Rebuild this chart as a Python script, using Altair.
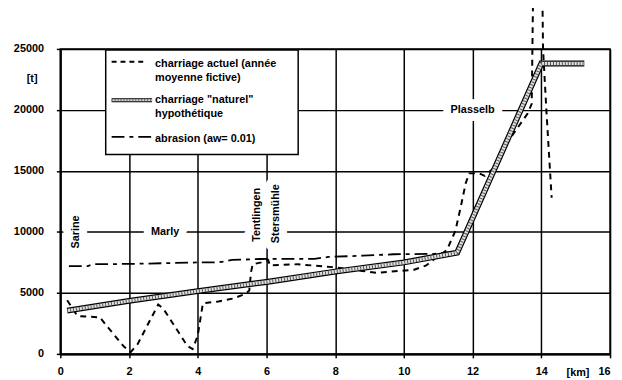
import altair as alt
import pandas as pd

# ---- data ----
act_km = [0.2, 0.5, 1.15, 1.35, 1.85, 2.05, 2.25, 2.85, 3.0, 3.7, 3.85, 4.0, 4.15, 4.6, 5.05, 5.4, 5.5,
          5.55, 5.6, 5.85, 6.05, 6.1, 6.9, 8.0, 8.8, 9.2, 10.3, 10.65, 10.85, 11.25, 11.5, 11.65, 11.8,
          11.9, 12.2, 12.35, 12.6, 13.0, 13.6, 13.72, 13.76, 14.03, 14.05, 14.15, 14.3]
act_t = [4400, 3100, 3000, 2300, 600, 150, 800, 4050, 3700, 650, 400, 1500, 4150, 4300, 4550, 4950, 5200,
         6700, 7350, 7500, 7700, 7250, 7350, 7100, 6800, 6650, 6900, 7250, 7700, 8500, 10100, 12000, 14000,
         14800, 14800, 14600, 15200, 17300, 19700, 20500, 29500, 29500, 25000, 19800, 12800]

nat_km = [0.2, 2.0, 4.0, 6.0, 8.0, 10.0, 11.55, 14.0, 15.25]
nat_t = [3550, 4350, 5150, 5900, 6750, 7500, 8300, 23800, 23800]

abr_km = [0.25, 0.8, 0.95, 2.1, 4.0, 4.6, 5.0, 5.8, 7.4, 7.8, 8.8, 9.7, 10.9, 11.55]
abr_t = [7200, 7200, 7350, 7380, 7500, 7500, 7700, 7780, 7800, 7950, 8050, 8170, 8200, 8400]

place_names = ["Sarine", "Marly", "Tentlingen", "Stersmühle", "Plasselb"]
place_km = [0.45, 3.05, 5.72, 6.29, 12.0]
place_t = [10000, 10000, 11400, 11500, 20000]
place_angle = [270, 0, 270, 270, 0]

x_ticks = [0, 2, 4, 6, 8, 10, 12, 14, 16]
y_ticks = [0, 5000, 10000, 15000, 20000, 25000]

legend_labels = ["charriage actuel (année\nmoyenne fictive)",
                 'charriage "naturel"\nhypothétique',
                 "abrasion (aw= 0.01)"]

FONT = "Liberation Sans"


def series_df(km, t):
    return pd.DataFrame({"km": km, "t": t, "i": list(range(len(km)))})


act_df = series_df(act_km, act_t)
nat_df = series_df(nat_km, nat_t)
abr_df = series_df(abr_km, abr_t)
place_df = pd.DataFrame({"km": place_km, "t": place_t, "name": place_names, "angle": place_angle})
one = pd.DataFrame({"a": [0]})

xs = alt.Scale(domain=[0, 16], nice=False, zero=False)
ys = alt.Scale(domain=[0, 25000], nice=False)

xenc = alt.X("km:Q", scale=xs, axis=alt.Axis(
    values=x_ticks, format="d", title="[km]", titleX=524, titleY=13, titleBaseline="top",
    titleAlign="center", titleFont=FONT, titleFontSize=11, titleFontWeight="bold", titleColor="black",
    labelFont=FONT, labelFontSize=11, labelFontWeight="bold", labelColor="black", labelPadding=8,
    labelAlign=alt.ExprRef(expr="datum.value == 16 ? 'right' : 'center'"),
    labelFlush=False, labelOverlap=False, labelBound=False,
    tickColor="black", tickSize=4, tickWidth=1.5, domainColor="black", domainWidth=2,
    grid=True, gridColor="black", gridWidth=1.5, gridOpacity=1))
yenc = alt.Y("t:Q", scale=ys, axis=alt.Axis(
    values=y_ticks, format="d", title="[t]", titleAngle=0, titleX=-29, titleY=30,
    titleAlign="center", titleBaseline="middle", titleFont=FONT, titleFontSize=11,
    titleFontWeight="bold", titleColor="black",
    labelFont=FONT, labelFontSize=11, labelFontWeight="bold", labelColor="black", labelPadding=13,
    labelFlush=False, labelOverlap=False,
    tickColor="black", tickSize=4, tickWidth=1.5, domainColor="black", domainWidth=2,
    grid=True, gridColor="black", gridWidth=1.5, gridOpacity=1))

order = alt.Order("i:Q")

# place name halos (white) and texts
halo = alt.Chart(place_df).mark_text(
    font=FONT, fontSize=11, fontWeight="bold", fill="white", stroke="white",
    strokeWidth=16, strokeJoin="round").encode(
    x=xenc, y=yenc, text="name:N", angle=alt.Angle("angle:Q", scale=None))
names = alt.Chart(place_df).mark_text(
    font=FONT, fontSize=11, fontWeight="bold", color="black").encode(
    x=xenc, y=yenc, text="name:N", angle=alt.Angle("angle:Q", scale=None))

abr = alt.Chart(abr_df).mark_line(color="black", strokeWidth=1.8, strokeDash=[13, 5, 4, 5]).encode(
    x=xenc, y=yenc, order=order)
act = alt.Chart(act_df).mark_line(color="black", strokeWidth=2, strokeDash=[6, 5]).encode(
    x=xenc, y=yenc, order=order)
nat1 = alt.Chart(nat_df).mark_line(color="black", strokeWidth=6).encode(x=xenc, y=yenc, order=order)
nat2 = alt.Chart(nat_df).mark_line(color="#e0e0e0", strokeWidth=3.5).encode(x=xenc, y=yenc, order=order)
nat3 = alt.Chart(nat_df).mark_line(color="#555555", strokeWidth=3.5, strokeDash=[1, 2]).encode(
    x=xenc, y=yenc, order=order)

# manual legend box
box = alt.Chart(one).mark_rect(fill="white", stroke="black", strokeWidth=1.5).encode(
    x=alt.value(46), x2=alt.value(241), y=alt.value(1), y2=alt.value(107))
s1 = alt.Chart(one).mark_rule(color="black", strokeWidth=2, strokeDash=[5, 4]).encode(
    x=alt.value(52), x2=alt.value(86), y=alt.value(13))
s2a = alt.Chart(one).mark_rule(color="black", strokeWidth=4).encode(
    x=alt.value(52), x2=alt.value(93), y=alt.value(52))
s2b = alt.Chart(one).mark_rule(color="#e0e0e0", strokeWidth=2).encode(
    x=alt.value(52), x2=alt.value(93), y=alt.value(52))
s2c = alt.Chart(one).mark_rule(color="#555555", strokeWidth=2, strokeDash=[1, 2]).encode(
    x=alt.value(52), x2=alt.value(93), y=alt.value(52))
s3 = alt.Chart(one).mark_rule(color="black", strokeWidth=1.8, strokeDash=[13, 5, 4, 5]).encode(
    x=alt.value(52), x2=alt.value(92), y=alt.value(89))

legend_y = [9, 46, 85]
leg_texts = []
for lab, ly in zip(legend_labels, legend_y):
    leg_texts.append(alt.Chart(one).mark_text(
        align="left", baseline="top", lineBreak="\n", lineHeight=14, font=FONT, fontSize=11,
        fontWeight="bold", color="black").encode(
        x=alt.value(96), y=alt.value(ly), text=alt.value(lab)))

chart = alt.layer(
    halo, abr, act, nat1, nat2, nat3, names, box, s1, s2a, s2b, s2c, s3, *leg_texts
).properties(
    width=557, height=309,
    autosize=alt.AutoSizeParams(type="none"),
    padding={"left": 53, "top": 39, "right": 4, "bottom": 28},
    background="white",
).configure_view(stroke="black", strokeWidth=1.5)

chart.save("out.html", embed_options={"renderer": "svg", "actions": False})
